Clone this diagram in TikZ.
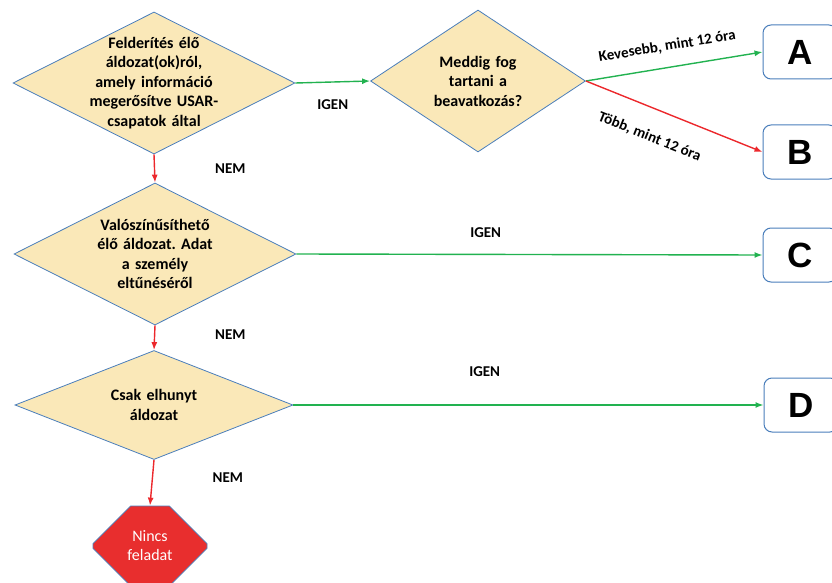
\documentclass[tikz,border=0pt]{standalone}
\usepackage{fontspec}
\setmainfont{Carlito}
\newfontfamily\letterfont{Liberation Sans}
\usetikzlibrary{positioning,shapes.geometric,shapes.misc,arrows.meta}
\definecolor{shapeblue}{RGB}{74,126,187}
\definecolor{diafill}{RGB}{250,232,184}
\definecolor{yesgreen}{RGB}{34,178,80}
\definecolor{nored}{RGB}{236,40,44}
\definecolor{stopred}{RGB}{232,46,46}
\frenchspacing

\begin{document}
\begin{tikzpicture}[x=1pt, y=-1pt]
    % Define styles
    \tikzstyle{decision}=[diamond, draw=shapeblue, fill=diafill, line width=0.8pt, aspect=1.98, inner xsep=-30pt, inner ysep=0pt, text width=140pt, align=center, minimum width=282pt, minimum height=142pt, font=\fontsize{16}{19.5}\selectfont\bfseries]
    \tikzstyle{outcome}=[rectangle, rounded corners=8pt, draw=shapeblue, fill=white, line width=1pt, minimum width=74pt, minimum height=54pt, font=\letterfont\fontsize{35}{40}\selectfont\bfseries]
    \tikzstyle{stop}=[chamfered rectangle, chamfered rectangle xsep=24pt, chamfered rectangle ysep=24pt, draw=shapeblue, fill=stopred, line width=0.8pt, minimum width=114pt, minimum height=80pt, inner sep=0pt, text=white, align=center, font=\fontsize{16}{19}\selectfont]
    \tikzstyle{lbl}=[inner sep=0pt, text=black, font=\fontsize{15}{18}\selectfont\bfseries]
    \tikzstyle{yes}=[-{Latex[length=8pt,width=6pt]}, yesgreen, line width=1.4pt]
    \tikzstyle{no}=[-{Latex[length=8pt,width=6pt]}, nored, line width=1.4pt]

    \useasboundingbox (0,0) rectangle (832,583);

    % Decisions
    \node[decision] (found) at (154,83) {Felderítés élő\\áldozat(ok)ról,\\amely információ\\megerősítve USAR-\\csapatok által};
    \node[decision, aspect=1.5, text width=100pt, minimum width=215pt] (duration) at (478,81) {Meddig fog\\tartani a\\beavatkozás?};
    \node[decision] (likely) at (155,254) {Valószínűsíthető\\élő áldozat. Adat\\a személy\\eltűnéséről};
    \node[decision, minimum width=278pt, minimum height=109pt] (dead) at (154,405) {Csak elhunyt\\áldozat};
    \node[stop] (none) at (150,546) {Nincs\\feladat};

    % Outcomes
    \node[outcome] (A) at (800,52) {A};
    \node[outcome] (B) at (800,152) {B};
    \node[outcome] (C) at (800,255) {C};
    \node[outcome] (D) at (801,405) {D};

    % Connections
    \draw[yes] (found.east) -- node[lbl, below=17pt] {IGEN} (duration.west);
    \draw[yes] (duration.east) -- node[lbl, sloped, pos=0.48, above=14pt] {Kevesebb, mint 12 óra} (A.west);
    \draw[no] (duration.east) -- node[lbl, sloped, pos=0.42, below=21pt] {Több, mint 12 óra} (B.west);
    \draw[yes] (likely.east) -- node[lbl, pos=0.406, above=16pt] {IGEN} (C.west);
    \draw[yes] (dead.east) -- node[lbl, pos=0.407, above=28pt] {IGEN} (D.west);
    \draw[no] (found.south) -- node[lbl, right=60pt] {NEM} (likely.north);
    \draw[no] (likely.south) -- node[lbl, right=60pt, yshift=3pt] {NEM} (dead.north);
    \draw[no] (dead.south) -- node[lbl, right=60pt, yshift=5pt] {NEM} (none.north);
\end{tikzpicture}
\end{document}
